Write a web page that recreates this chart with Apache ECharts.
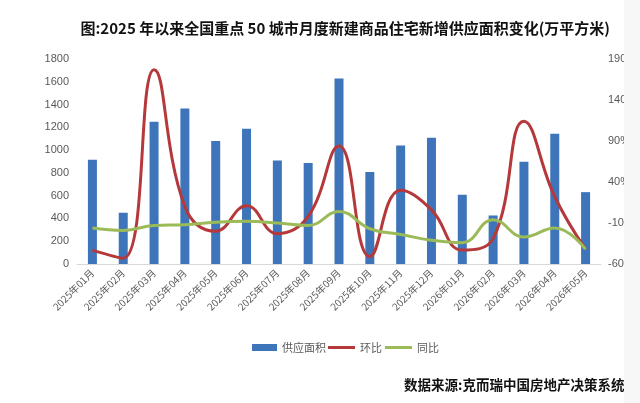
<!DOCTYPE html>
<html>
<head>
<meta charset="utf-8">
<script src="https://cdn.jsdelivr.net/npm/echarts@6/dist/echarts.min.js"></script>
<style>
html,body{margin:0;padding:0;background:#f7f7f7;}
#c{width:624px;height:403px;background:#fff;}
</style>
</head>
<body>
<div id="c"></div>
<script>
const categories = ['2025年01月','2025年02月','2025年03月','2025年04月','2025年05月','2025年06月','2025年07月','2025年08月','2025年09月','2025年10月','2025年11月','2025年12月','2026年01月','2026年02月','2026年03月','2026年04月','2026年05月'];
const supplyArea = [915, 450, 1248, 1365, 1081, 1187, 909, 886, 1628, 807, 1040, 1108, 608, 426, 897, 1143, 631];
const momChange = [-43, -53, 177, 10, -20, 11, -23, -2, 84, -51, 30, 6, -43, -29, 114, 22, -42];
const yoyChange = [-16, -19, -13, -12, -9, -8, -10, -13, 4, -17, -24, -31, -34, -6, -27, -16, -42];

const chart = echarts.init(document.getElementById('c'));
const gray = '#595959';
const legendText = {fontSize: 11, color: gray, fontFamily: 'Noto Sans CJK SC'};
chart.setOption({
  animation: false,
  backgroundColor: '#fff',
  title: [{
    text: '图:2025 年以来全国重点 50 城市月度新建商品住宅新增供应面积变化(万平方米)',
    right: 9, top: 16,
    textStyle: {fontFamily: 'Noto Sans CJK SC', fontWeight: 'bold', fontSize: 15, color: '#111'}
  }, {
    text: '数据来源:克而瑞中国房地产决策系统',
    left: 399, top: 373,
    textStyle: {fontFamily: 'Noto Sans CJK SC', fontWeight: 'bold', fontSize: 13.5, color: '#111'}
  }],
  legend: [{
    left: 247, top: 337,
    itemWidth: 25, itemHeight: 7,
    textStyle: legendText,
    data: [{name: '供应面积', icon: 'rect'}]
  }, {
    left: 323, top: 337,
    itemWidth: 27, itemHeight: 3, itemGap: 3,
    textStyle: legendText,
    data: [{name: '环比', icon: 'rect'}, {name: '同比', icon: 'rect'}]
  }],
  grid: {left: 77, right: 23, top: 59, bottom: 139, outerBoundsMode: 'none'},
  xAxis: {
    type: 'category', data: categories,
    axisLine: {lineStyle: {color: '#d9d9d9'}},
    axisTick: {show: false},
    axisLabel: {rotate: 45, fontSize: 10, color: gray, margin: 7, interval: 0, fontFamily: 'Noto Sans CJK SC'}
  },
  yAxis: [{
    type: 'value', min: 0, max: 1800, interval: 200,
    splitLine: {show: false}, axisLine: {show: false}, axisTick: {show: false},
    axisLabel: {fontSize: 11, color: gray, margin: 8, formatter: function (v) { return String(v); }}
  }, {
    type: 'value', min: -60, max: 190, interval: 50,
    splitLine: {show: false}, axisLine: {show: false}, axisTick: {show: false},
    axisLabel: {fontSize: 11, color: gray, margin: 7, formatter: '{value}%'}
  }],
  series: [{
    name: '供应面积', type: 'bar', data: supplyArea, barWidth: 9,
    itemStyle: {color: '#3E75BA'}
  }, {
    name: '环比', type: 'line', yAxisIndex: 1, data: momChange, smooth: 0.45,
    symbol: 'none', lineStyle: {color: '#B5383B', width: 3}, itemStyle: {color: '#B5383B'}
  }, {
    name: '同比', type: 'line', yAxisIndex: 1, data: yoyChange, smooth: 0.45,
    symbol: 'none', lineStyle: {color: '#9BBB59', width: 3}, itemStyle: {color: '#9BBB59'}
  }]
});
</script>
</body>
</html>
